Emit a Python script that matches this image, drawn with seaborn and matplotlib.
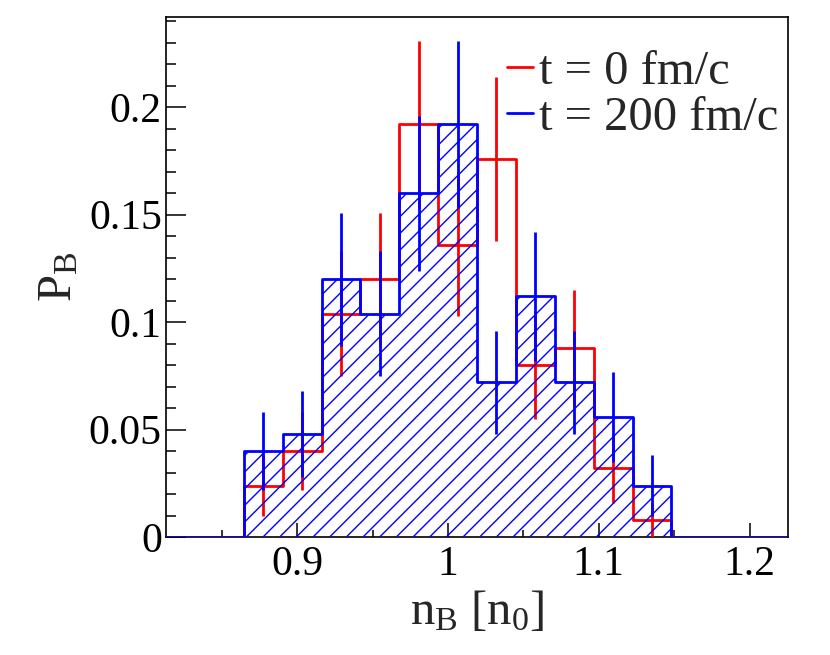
import numpy as np
import pandas as pd
import seaborn as sns
import matplotlib.pyplot as plt
from matplotlib.lines import Line2D
from matplotlib.ticker import MultipleLocator

sns.set_style('ticks')
plt.rcParams['font.family'] = ['Liberation Serif', 'DejaVu Serif']
plt.rcParams['mathtext.fontset'] = 'custom'
plt.rcParams['mathtext.rm'] = 'Liberation Serif'
plt.rcParams['mathtext.it'] = 'Liberation Serif:italic'
plt.rcParams['hatch.color'] = 'blue'
plt.rcParams['hatch.linewidth'] = 1.0

# histogram range, 16 bins (ROOT style)
x_min = 0.813
x_max = 1.2255
n_bins = 16

# probability per bin (bins 0..15), t = 0 fm/c
p_t0 = [0, 0, 0.024, 0.040, 0.104, 0.120, 0.192, 0.136,
        0.176, 0.080, 0.088, 0.032, 0.008, 0, 0, 0]
err_t0 = [0, 0, 0.014, 0.018, 0.029, 0.031, 0.039, 0.033,
          0.038, 0.025, 0.027, 0.016, 0.008, 0, 0, 0]

# t = 200 fm/c
p_t200 = [0, 0, 0.040, 0.048, 0.120, 0.104, 0.160, 0.192,
          0.072, 0.112, 0.072, 0.056, 0.024, 0, 0, 0]
err_t200 = [0, 0, 0.018, 0.020, 0.031, 0.029, 0.036, 0.039,
            0.024, 0.030, 0.024, 0.021, 0.014, 0, 0, 0]

labels = ['t = 0 fm/c', 't = 200 fm/c']

edges = np.linspace(x_min, x_max, n_bins + 1).tolist()
centers = [0.5 * (a + b) for a, b in zip(edges[:-1], edges[1:])]
df = pd.DataFrame({'nB': centers, 'p0': p_t0, 'e0': err_t0,
                   'p200': p_t200, 'e200': err_t200})

fig = plt.figure(figsize=(8.3, 6.55), dpi=100)
ax = fig.add_axes([0.2, 0.18, 0.7494, 0.794])

# t = 0: red step + errors
sns.histplot(data=df, x='nB', weights='p0', bins=edges, element='step',
             fill=False, color='red', linewidth=2, zorder=3, ax=ax)
nz = df[df['p0'] > 0]
ax.errorbar(nz['nB'], nz['p0'], yerr=nz['e0'], fmt='none', ecolor='red',
            elinewidth=2, capsize=0, zorder=3)

# t = 200: hatched fill, blue step outline + errors
sns.histplot(data=df, x='nB', weights='p200', bins=edges, element='step',
             fill=True, color='blue', facecolor='none', edgecolor='blue',
             hatch='//', linewidth=0, zorder=3.1, ax=ax)
sns.histplot(data=df, x='nB', weights='p200', bins=edges, element='step',
             fill=False, color='blue', linewidth=2, zorder=3.2, ax=ax)
nz = df[df['p200'] > 0]
ax.errorbar(nz['nB'], nz['p200'], yerr=nz['e200'], fmt='none', ecolor='blue',
            elinewidth=2, capsize=0, zorder=3.3)

ax.set_xlim(x_min, x_max)
ax.set_ylim(0, 0.242)
ax.xaxis.set_major_locator(MultipleLocator(0.1))
ax.xaxis.set_minor_locator(MultipleLocator(0.05))
ax.yaxis.set_major_locator(MultipleLocator(0.05))
ax.yaxis.set_minor_locator(MultipleLocator(0.01))
ax.yaxis.set_major_formatter(plt.FuncFormatter(lambda v, p: f'{v:g}'))
ax.xaxis.set_major_formatter(plt.FuncFormatter(lambda v, p: f'{v:g}'))

ax.tick_params(axis='both', which='both', direction='in', width=1.1,
               labelsize=30, colors='black')
ax.tick_params(axis='y', which='major', length=14.5, pad=3)
ax.tick_params(axis='y', which='minor', length=7)
ax.tick_params(axis='x', which='major', length=10, pad=6)
ax.tick_params(axis='x', which='minor', length=5)
for s in ax.spines.values():
    s.set_linewidth(1.2)
    s.set_color('black')

ax.set_xlabel(r'$\mathregular{n_{B}\ [n_{0}]}$', fontsize=35, labelpad=4)
ax.set_ylabel(r'$\mathregular{P_{B}}$', fontsize=35, labelpad=5)

handles = [Line2D([], [], color='red', lw=2), Line2D([], [], color='blue', lw=2)]
ax.legend(handles, labels, loc='upper right', bbox_to_anchor=(0.985, 0.937),
          frameon=False, fontsize=35, handlelength=0.55, handletextpad=0.12,
          labelspacing=0.05, borderpad=0, borderaxespad=0)

fig.savefig('out.png', dpi=100)
